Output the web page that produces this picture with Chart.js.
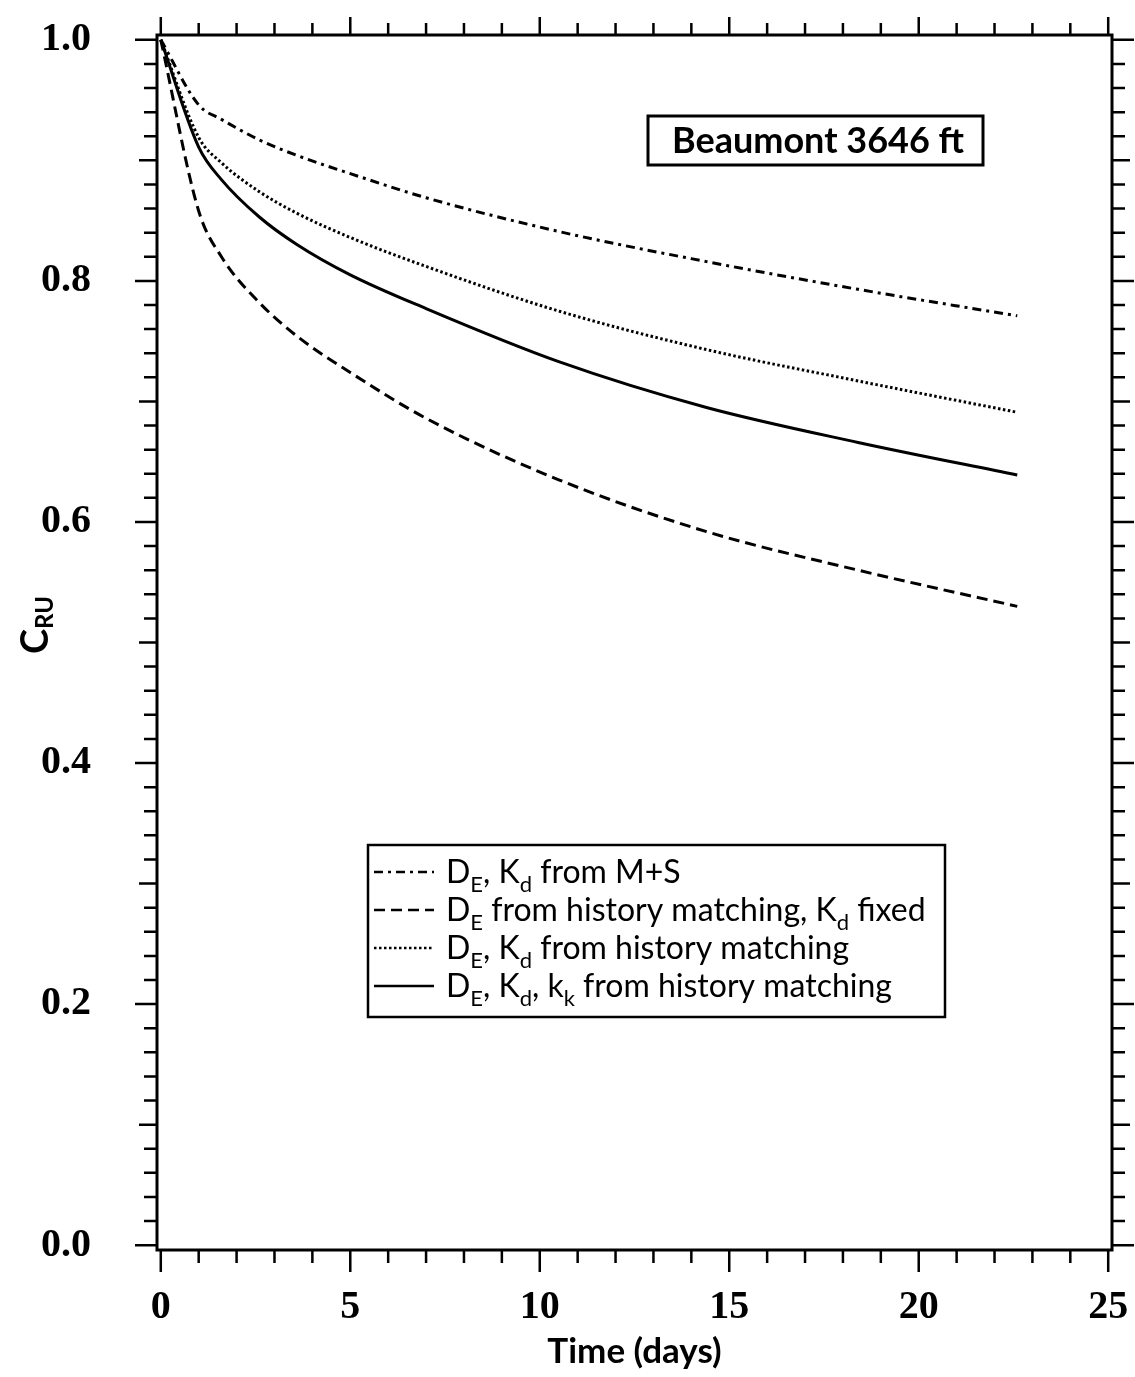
<!DOCTYPE html>
<html>
<head>
<meta charset="utf-8">
<script src="https://cdn.jsdelivr.net/npm/chart.js@4.4.1/dist/chart.umd.min.js"></script>
<style>
  html, body { margin: 0; padding: 0; background: #fff; }
  #wrap { width: 1135px; height: 1377px; position: relative; }
</style>
</head>
<body>
<div id="wrap"><canvas id="cru-chart"></canvas></div>
<script>
// C_RU vs tempo, Beaumont 3646 ft.

const TIME_DAYS = [0, 1, 1.6, 2.6, 3.6, 5, 7, 10.5, 14.4, 18.4, 22.6];
const CRU_MS = [1.0, 0.946, 0.934, 0.917, 0.904, 0.889, 0.869, 0.841, 0.816, 0.793, 0.771];
const CRU_DE_HM_KD_FIXED = [1.0, 0.858, 0.820, 0.782, 0.754, 0.724, 0.686, 0.635, 0.592, 0.560, 0.530];
const CRU_DE_KD_HM = [1.0, 0.919, 0.898, 0.874, 0.856, 0.836, 0.812, 0.775, 0.743, 0.717, 0.691];
const CRU_DE_KD_KK_HM = [1.0, 0.911, 0.884, 0.853, 0.830, 0.805, 0.777, 0.733, 0.695, 0.666, 0.639];

const X_TICKS = [0, 5, 10, 15, 20, 25];
const Y_TICKS = [0.0, 0.2, 0.4, 0.6, 0.8, 1.0];

// legenda: pedaços [texto, subscrito?]
const LEGEND_LABELS = [
  [['D', 0], ['E', 1], [', K', 0], ['d', 1], [' from M+S', 0]],
  [['D', 0], ['E', 1], [' from history matching, K', 0], ['d', 1], [' fixed', 0]],
  [['D', 0], ['E', 1], [', K', 0], ['d', 1], [' from history matching', 0]],
  [['D', 0], ['E', 1], [', K', 0], ['d', 1], [', k', 0], ['k', 1], [' from history matching', 0]],
];
const ANNOTATION = 'Beaumont 3646 ft';

const INK = '#000';
const SANS = '"Lato", "Open Sans", sans-serif';
const TICK_FONT = { family: '"Liberation Serif", "DejaVu Serif", serif', weight: 'bold', size: 40 };

function toPoints(values) {
  return values.map((v, i) => ({ x: TIME_DAYS[i], y: v }));
}

const datasets = [
  { data: toPoints(CRU_MS), borderDash: [9, 5, 3, 5] },
  { data: toPoints(CRU_DE_HM_KD_FIXED), borderDash: [11, 6] },
  { data: toPoints(CRU_DE_KD_HM), borderDash: [2.5, 2.5] },
  { data: toPoints(CRU_DE_KD_KK_HM), borderDash: [] },
].map((d) => ({
  ...d,
  borderColor: INK,
  borderWidth: 3,
  pointRadius: 0,
  showLine: true,
  fill: false,
  cubicInterpolationMode: 'monotone',
}));

function drawRich(ctx, parts, x, y, size) {
  let cx = x;
  parts.forEach(([txt, sub]) => {
    ctx.font = `${sub ? Math.round(size * 0.7) : size}px ${SANS}`;
    ctx.fillText(txt, cx, sub ? y + size * 0.28 : y);
    cx += ctx.measureText(txt).width;
  });
}

const framePlugin = {
  id: 'frame',
  beforeDraw(chart) {
    const { ctx } = chart;
    ctx.save();
    ctx.fillStyle = '#fff';
    ctx.fillRect(0, 0, chart.width, chart.height);
    ctx.restore();
  },
  afterDraw(chart) {
    const { ctx, chartArea: a, scales: { x, y } } = chart;
    ctx.save();
    ctx.strokeStyle = INK;
    ctx.lineWidth = 3;
    ctx.strokeRect(a.left, a.top, a.right - a.left, a.bottom - a.top);

    // marcas do eixo x (fora da moldura, em cima e embaixo)
    ctx.lineWidth = 2.5;
    ctx.beginPath();
    for (let d = 0; d <= 25; d++) {
      const px = x.getPixelForValue(d);
      const len = d % 5 === 0 ? 22 : 13;
      ctx.moveTo(px, a.bottom); ctx.lineTo(px, a.bottom + len);
      ctx.moveTo(px, a.top); ctx.lineTo(px, a.top - (d % 5 === 0 ? 18 : 12));
    }
    // marcas do eixo y (fora da moldura, esquerda e direita)
    for (let i = 0; i <= 50; i++) {
      const py = y.getPixelForValue(i / 50);
      const len = i % 10 === 0 ? 22 : (i % 5 === 0 ? 18 : 13);
      ctx.moveTo(a.left, py); ctx.lineTo(a.left - len, py);
      ctx.moveTo(a.right, py); ctx.lineTo(a.right + len, py);
    }
    ctx.stroke();

    // títulos dos eixos
    ctx.fillStyle = INK;
    ctx.font = `bold 35px ${SANS}`;
    ctx.textAlign = 'center';
    ctx.textBaseline = 'middle';
    ctx.fillText('Time (days)', (a.left + a.right) / 2, 1352);

    ctx.save();
    ctx.translate(36, 625);
    ctx.rotate(-Math.PI / 2);
    ctx.textAlign = 'left';
    ctx.font = `bold 38px ${SANS}`;
    const cW = ctx.measureText('C').width;
    ctx.font = `bold 24px ${SANS}`;
    const subW = ctx.measureText('RU').width;
    const start = -(cW + subW) / 2;
    ctx.font = `bold 38px ${SANS}`;
    ctx.fillText('C', start, 0);
    ctx.font = `bold 24px ${SANS}`;
    ctx.fillText('RU', start + cW, 9);
    ctx.restore();

    // caixa de anotação
    ctx.lineWidth = 3;
    ctx.strokeRect(648, 116, 335, 49);
    ctx.font = `bold 36px ${SANS}`;
    ctx.textAlign = 'center';
    ctx.fillText(ANNOTATION, 818, 141);

    // legenda
    ctx.lineWidth = 2.5;
    ctx.strokeRect(368, 845, 577, 172);
    const rowY = [872, 910, 948, 986];
    ctx.textAlign = 'left';
    ctx.textBaseline = 'alphabetic';
    chart.data.datasets.forEach((ds, i) => {
      ctx.save();
      ctx.lineWidth = 2.5;
      ctx.setLineDash(ds.borderDash);
      ctx.beginPath();
      ctx.moveTo(374, rowY[i]);
      ctx.lineTo(434, rowY[i]);
      ctx.stroke();
      ctx.restore();
      drawRich(ctx, LEGEND_LABELS[i], 446, rowY[i] + 11, 32);
    });
    ctx.restore();
  },
};

new Chart(document.getElementById('cru-chart'), {
  type: 'scatter',
  data: { datasets },
  plugins: [framePlugin],
  options: {
    responsive: true,
    maintainAspectRatio: false,
    animation: false,
    layout: { padding: { top: 35, right: 23, left: 0, bottom: 0 } },
    plugins: { legend: { display: false }, tooltip: { enabled: false } },
    scales: {
      x: {
        type: 'linear',
        min: -0.1,
        max: 25.1,
        grid: { display: false },
        border: { display: false },
        afterBuildTicks: (scale) => { scale.ticks = X_TICKS.map((v) => ({ value: v })); },
        afterFit: (scale) => {
          scale.height = 127;
          scale.paddingLeft = 0; scale.paddingRight = 0;
        },
        ticks: {
          color: INK,
          font: TICK_FONT,
          padding: 26,
          maxRotation: 0,
          callback: (v) => String(v),
        },
      },
      y: {
        type: 'linear',
        min: -0.004,
        max: 1.004,
        grid: { display: false },
        border: { display: false },
        afterBuildTicks: (scale) => { scale.ticks = Y_TICKS.map((v) => ({ value: v })); },
        afterFit: (scale) => {
          scale.width = 157;
          scale.paddingTop = 0; scale.paddingBottom = 0;
        },
        ticks: {
          color: INK,
          font: TICK_FONT,
          padding: 58,
          callback: (v) => Number(v).toFixed(1),
        },
      },
    },
  },
});
</script>
</body>
</html>
